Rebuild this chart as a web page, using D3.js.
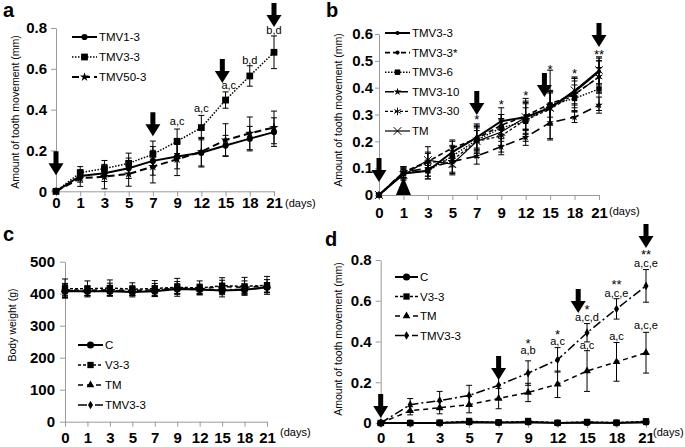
<!DOCTYPE html>
<html>
<head>
<meta charset="utf-8">
<script src="https://cdn.jsdelivr.net/npm/d3@7"></script>
<style>
  body { margin: 0; background: #fff; }
  svg { font-family: "Liberation Sans", Arial, sans-serif; }
</style>
</head>
<body>
<svg id="chart" width="685" height="447"></svg>
<script>
// shared x categories (days)
const days = [0, 1, 3, 5, 7, 9, 12, 15, 18, 21];

// panel a: tooth movement (mm)
const aTMV1_3 = [0, 0.075, 0.088, 0.113, 0.149, 0.17, 0.189, 0.224, 0.258, 0.29];
const aTMV1_3Sd = [0, 0.03, 0.04, 0.05, 0.07, 0.06, 0.07, 0.05, 0.06, 0.07];
const aTMV3_3 = [0, 0.091, 0.111, 0.137, 0.181, 0.245, 0.312, 0.447, 0.565, 0.681];
const aTMV3_3Sd = [0, 0.03, 0.04, 0.05, 0.065, 0.06, 0.06, 0.04, 0.05, 0.08];
const aTMV50_3 = [0, 0.064, 0.072, 0.085, 0.121, 0.157, 0.194, 0.251, 0.284, 0.313];
const aTMV50_3Sd = [0, 0.04, 0.06, 0.06, 0.08, 0.08, 0.07, 0.08, 0.08, 0.08];
const aYTicks = [0, 0.2, 0.4, 0.6, 0.8];
const aArrows = [[0, 0.079], [7, 0.27], [14.6, 0.53], [21, 0.805]];
const aNotes = [[9, 0.324, "a,c"], [12, 0.388, "a,c"], [15.4, 0.5, "a,c"], [18, 0.623, "b,d"], [21, 0.77, "b,d"]];

// panel b
const bTMV3_3 = [0, 0.08, 0.09, 0.16, 0.215, 0.275, 0.29, 0.325, 0.385, 0.46];
const bTMV3_3Sd = [0, 0.02, 0.03, 0.04, 0.05, 0.05, 0.06, 0.06, 0.05, 0.05];
const bTMV3_3s = [0, 0.085, 0.125, 0.175, 0.21, 0.26, 0.295, 0.34, 0.375, 0.44];
const bTMV3_3sSd = [0, 0.02, 0.03, 0.03, 0.04, 0.04, 0.05, 0.05, 0.05, 0.06];
const bTMV3_6 = [0, 0.08, 0.09, 0.145, 0.205, 0.25, 0.275, 0.335, 0.36, 0.395];
const bTMV3_6Sd = [0, 0.02, 0.02, 0.04, 0.05, 0.05, 0.05, 0.13, 0.05, 0.08];
const bTMV3_10 = [0, 0.085, 0.1, 0.125, 0.145, 0.18, 0.215, 0.27, 0.29, 0.335];
const bTMV3_10Sd = [0, 0.02, 0.03, 0.04, 0.03, 0.03, 0.03, 0.06, 0.02, 0.03];
const bTMV3_30 = [0, 0.085, 0.12, 0.13, 0.2, 0.22, 0.28, 0.32, 0.375, 0.44];
const bTMV3_30Sd = [0, 0.02, 0.06, 0.05, 0.06, 0.06, 0.08, 0.06, 0.06, 0.06];
const bTM = [0, 0.075, 0.13, 0.115, 0.2, 0.235, 0.29, 0.325, 0.39, 0.465];
const bTMSd = [0, 0.02, 0.03, 0.04, 0.04, 0.05, 0.05, 0.06, 0.05, 0.05];
const bYTicks = [0, 0.1, 0.2, 0.3, 0.4, 0.5, 0.6];
const bArrows = [[0, 0.048], [7, 0.298], [14.3, 0.365], [21, 0.552]];
const bUpArrows = [[1, 0.067]];
const bNotes = [[7, 0.265, "*"], [9, 0.32, "*"], [12, 0.354, "*"], [15, 0.451, "*"], [18, 0.436, "*"], [21, 0.507, "**"]];

// panel c: body weight (g)
const cC = [408, 408, 408, 405, 408, 415, 413, 410, 412, 420];
const cCSd = [20, 15, 15, 15, 15, 15, 15, 20, 15, 15];
const cV3_3 = [416, 415, 418, 414, 416, 420, 418, 425, 423, 426];
const cV3_3Sd = [30, 25, 25, 20, 25, 28, 22, 25, 28, 28];
const cTM = [412, 410, 413, 410, 412, 418, 415, 422, 420, 424];
const cTMSd = [20, 15, 20, 15, 20, 20, 15, 20, 20, 20];
const cTMV3_3 = [410, 406, 410, 406, 410, 416, 412, 412, 414, 418];
const cTMV3_3Sd = [15, 12, 15, 12, 15, 15, 12, 15, 12, 15];
const cYTicks = [0, 100, 200, 300, 400, 500];

// panel d
const dC = [0, 0, 0, 0.005, 0.002, 0.005, 0, 0.003, 0, 0.005];
const dCSd = [0, 0.008, 0.008, 0.01, 0.008, 0.01, 0.008, 0.008, 0.008, 0.01];
const dV3_3 = [0, 0, 0.002, 0.008, 0.003, 0.008, 0.001, 0.005, 0.002, 0.008];
const dV3_3Sd = [0, 0.01, 0.01, 0.015, 0.01, 0.015, 0.01, 0.01, 0.01, 0.012];
const dTM = [0, 0.06, 0.075, 0.09, 0.12, 0.15, 0.19, 0.255, 0.3, 0.345];
const dTMSd = [0, 0.02, 0.03, 0.04, 0.05, 0.045, 0.065, 0.1, 0.095, 0.1];
const dTMV3_3 = [0, 0.09, 0.11, 0.135, 0.185, 0.245, 0.31, 0.443, 0.56, 0.673];
const dTMV3_3Sd = [0, 0.03, 0.045, 0.05, 0.065, 0.06, 0.06, 0.045, 0.05, 0.08];
const dYTicks = [0, 0.2, 0.4, 0.6, 0.8];
const dArrows = [[0, 0.025], [7, 0.211], [14.1, 0.54], [21, 0.859]];
const dNotes = [
  [9, 0.366, "*"], [9, 0.339, "a,b"],
  [12, 0.414, "*"], [12, 0.383, "a,c"],
  [15, 0.534, "*"], [15, 0.5, "a,c,d"], [15, 0.363, "a,c"],
  [18, 0.658, "**"], [18, 0.618, "a,c,e"], [18, 0.407, "a,c"],
  [21, 0.803, "**"], [21, 0.766, "a,c,e"], [21, 0.461, "a,c,e"]
];

const svg = d3.select("#chart");
const symAsterisk = d3.symbolAsterisk || d3.symbolCross;
const symTimes = d3.symbolTimes || d3.symbolCross;

//Draw one panel
function drawPanel(p) {
  const g = svg.append("g");
  const x = d3.scalePoint().domain(days).range([p.left, p.right]);
  // piecewise scale so arrows can sit between two days
  const xAt = d3.scaleLinear().domain(days).range(days.map(d => x(d)));
  const y = d3.scaleLinear().domain([0, p.yMax]).range([p.bottom, p.top]);

  const xAxis = g.append("g")
    .attr("transform", `translate(0,${p.bottom})`)
    .call(d3.axisBottom(x).tickSize(5).tickSizeOuter(0).tickPadding(p.xPad));
  const yAxis = g.append("g")
    .attr("transform", `translate(${p.left},0)`)
    .call(d3.axisLeft(y).tickValues(p.yTicks).tickFormat(d => d).tickSize(p.yTick).tickSizeOuter(0).tickPadding(p.yPad));
  [xAxis, yAxis].forEach(ax => {
    ax.attr("font-family", null).attr("font-size", null);
    ax.selectAll("path, line").attr("stroke", "#9a9a9a");
    ax.selectAll("text").attr("font-size", 15).attr("font-weight", "bold").attr("fill", "#000");
  });

  g.append("text").attr("x", p.daysX).attr("y", p.daysY)
    .attr("font-size", 11).text("(days)");

  g.append("text").attr("x", p.letterX).attr("y", p.letterY)
    .attr("font-size", 20).attr("font-weight", "bold").text(p.letter);

  g.append("text")
    .attr("transform", `translate(${p.titleX},${p.titleY}) rotate(-90)`)
    .attr("text-anchor", "middle").attr("font-size", 10.5).text(p.title);

  const line = d3.line().x((d, i) => x(days[i])).y(d => y(d));

  p.series.forEach(s => {
    const eg = g.append("g").attr("stroke", "#000").attr("stroke-width", 1);
    s.values.forEach((v, i) => {
      const e = s.sd[i];
      if (!e) return;
      const cx = x(days[i]);
      eg.append("line").attr("x1", cx).attr("x2", cx).attr("y1", y(v - e)).attr("y2", y(v + e));
      eg.append("line").attr("x1", cx - 3).attr("x2", cx + 3).attr("y1", y(v - e)).attr("y2", y(v - e));
      eg.append("line").attr("x1", cx - 3).attr("x2", cx + 3).attr("y1", y(v + e)).attr("y2", y(v + e));
    });
  });

  p.series.forEach(s => {
    g.append("path").datum(s.values)
      .attr("d", line).attr("fill", "none").attr("stroke", "#000")
      .attr("stroke-width", s.w).attr("stroke-dasharray", s.dash);
  });

  function marker(sel, s) {
    const stroked = s.sym === symAsterisk || s.sym === symTimes;
    sel.attr("d", d3.symbol().type(s.sym).size(s.size))
      .attr("fill", stroked ? "none" : "#000")
      .attr("stroke", stroked ? "#000" : "none")
      .attr("stroke-width", 1);
  }

  p.series.forEach(s => {
    g.append("g").selectAll("path").data(s.values).enter().append("path")
      .attr("transform", (d, i) => `translate(${x(days[i])},${y(d)})`)
      .call(marker, s);
  });

  // legend
  p.series.forEach((s, i) => {
    const ly = p.legY + i * p.legDy;
    g.append("line").attr("x1", p.legX).attr("x2", p.legX + p.legW)
      .attr("y1", ly).attr("y2", ly).attr("stroke", "#000")
      .attr("stroke-width", s.w).attr("stroke-dasharray", s.dash);
    g.append("path").attr("transform", `translate(${p.legX + p.legW / 2},${ly})`).call(marker, s);
    g.append("text").attr("x", p.legX + p.legW + 2).attr("y", ly)
      .attr("dy", "0.35em").attr("font-size", 11.5).text(s.name);
  });

  // arrows
  (p.arrows || []).forEach(([dd, v]) => {
    const cx = xAt(dd), ty = y(v);
    g.append("path")
      .attr("d", `M${cx - 2.5},${ty - 24}H${cx + 2.5}V${ty - 12}H${cx + 7.5}L${cx},${ty}L${cx - 7.5},${ty - 12}H${cx - 2.5}Z`)
      .attr("fill", "#000");
  });
  (p.upArrows || []).forEach(([dd, v]) => {
    const cx = xAt(dd), ty = y(v);
    g.append("path")
      .attr("d", `M${cx - 7.5},${p.bottom}L${cx},${ty}L${cx + 7.5},${p.bottom}Z`)
      .attr("fill", "#000");
  });

  // significance notes
  (p.notes || []).forEach(([dd, v, t]) => {
    g.append("text").attr("x", xAt(dd)).attr("y", y(v))
      .attr("text-anchor", "middle").attr("font-size", t.indexOf("*") >= 0 ? 13 : 11).text(t);
  });
}

drawPanel({
  letter: "a", letterX: 3, letterY: 17,
  left: 56, right: 274, bottom: 191.3, top: 28, yMax: 0.8, yTicks: aYTicks,
  xPad: 1.5, yTick: 5, yPad: 4,
  daysX: 285, daysY: 207,
  title: "Amount of tooth movement (mm)", titleX: 19, titleY: 112,
  legX: 72, legY: 37, legDy: 20, legW: 25,
  series: [
    { name: "TMV1-3", values: aTMV1_3, sd: aTMV1_3Sd, w: 2, dash: null, sym: d3.symbolCircle, size: 30 },
    { name: "TMV3-3", values: aTMV3_3, sd: aTMV3_3Sd, w: 1.5, dash: "1.5,1.5", sym: d3.symbolSquare, size: 46 },
    { name: "TMV50-3", values: aTMV50_3, sd: aTMV50_3Sd, w: 2, dash: "7,4", sym: d3.symbolStar, size: 26 }
  ],
  arrows: aArrows, notes: aNotes
});

drawPanel({
  letter: "b", letterX: 326, letterY: 17,
  left: 379, right: 599, bottom: 195, top: 34, yMax: 0.6, yTicks: bYTicks,
  xPad: 7.5, yTick: 4, yPad: 2,
  daysX: 609, daysY: 215,
  title: "Amount of tooth movement (mm)", titleX: 342, titleY: 110,
  legX: 385, legY: 33, legDy: 19.6, legW: 25,
  series: [
    { name: "TMV3-3", values: bTMV3_3, sd: bTMV3_3Sd, w: 2, dash: null, sym: d3.symbolCircle, size: 14 },
    { name: "TMV3-3*", values: bTMV3_3s, sd: bTMV3_3sSd, w: 1.6, dash: "5,3", sym: d3.symbolCircle, size: 14 },
    { name: "TMV3-6", values: bTMV3_6, sd: bTMV3_6Sd, w: 1.4, dash: "1.5,1.5", sym: d3.symbolSquare, size: 30 },
    { name: "TMV3-10", values: bTMV3_10, sd: bTMV3_10Sd, w: 1.6, dash: "9,5", sym: d3.symbolStar, size: 18 },
    { name: "TMV3-30", values: bTMV3_30, sd: bTMV3_30Sd, w: 1.2, dash: "3,2", sym: symAsterisk, size: 40 },
    { name: "TM", values: bTM, sd: bTMSd, w: 1.2, dash: null, sym: symTimes, size: 40 }
  ],
  arrows: bArrows, upArrows: bUpArrows, notes: bNotes
});

drawPanel({
  letter: "c", letterX: 3, letterY: 241,
  left: 65, right: 267, bottom: 421.7, top: 261.7, yMax: 500, yTicks: cYTicks,
  xPad: 5.5, yTick: 5, yPad: 5,
  daysX: 280, daysY: 436,
  title: "Body weight (g)", titleX: 16, titleY: 325,
  legX: 78, legY: 345, legDy: 20, legW: 25,
  series: [
    { name: "C", values: cC, sd: cCSd, w: 2, dash: null, sym: d3.symbolCircle, size: 40 },
    { name: "V3-3", values: cV3_3, sd: cV3_3Sd, w: 1.5, dash: "3,2", sym: d3.symbolSquare, size: 40 },
    { name: "TM", values: cTM, sd: cTMSd, w: 1.5, dash: "5,4", sym: d3.symbolTriangle, size: 26 },
    { name: "TMV3-3", values: cTMV3_3, sd: cTMV3_3Sd, w: 1.5, dash: "9,3,2,3", sym: d3.symbolDiamond, size: 22 }
  ]
});

drawPanel({
  letter: "d", letterX: 325, letterY: 246,
  left: 380.7, right: 646, bottom: 423, top: 260, yMax: 0.8, yTicks: dYTicks,
  xPad: 4.5, yTick: 5, yPad: 4,
  daysX: 653, daysY: 436,
  title: "Amount of tooth movement (mm)", titleX: 342, titleY: 339,
  legX: 395, legY: 277, legDy: 19.5, legW: 23,
  series: [
    { name: "C", values: dC, sd: dCSd, w: 2, dash: null, sym: d3.symbolCircle, size: 40 },
    { name: "V3-3", values: dV3_3, sd: dV3_3Sd, w: 1.5, dash: "3,2", sym: d3.symbolSquare, size: 40 },
    { name: "TM", values: dTM, sd: dTMSd, w: 1.5, dash: "5,4", sym: d3.symbolTriangle, size: 26 },
    { name: "TMV3-3", values: dTMV3_3, sd: dTMV3_3Sd, w: 1.5, dash: "9,3,2,3", sym: d3.symbolDiamond, size: 22 }
  ],
  arrows: dArrows, notes: dNotes
});
</script>
</body>
</html>
